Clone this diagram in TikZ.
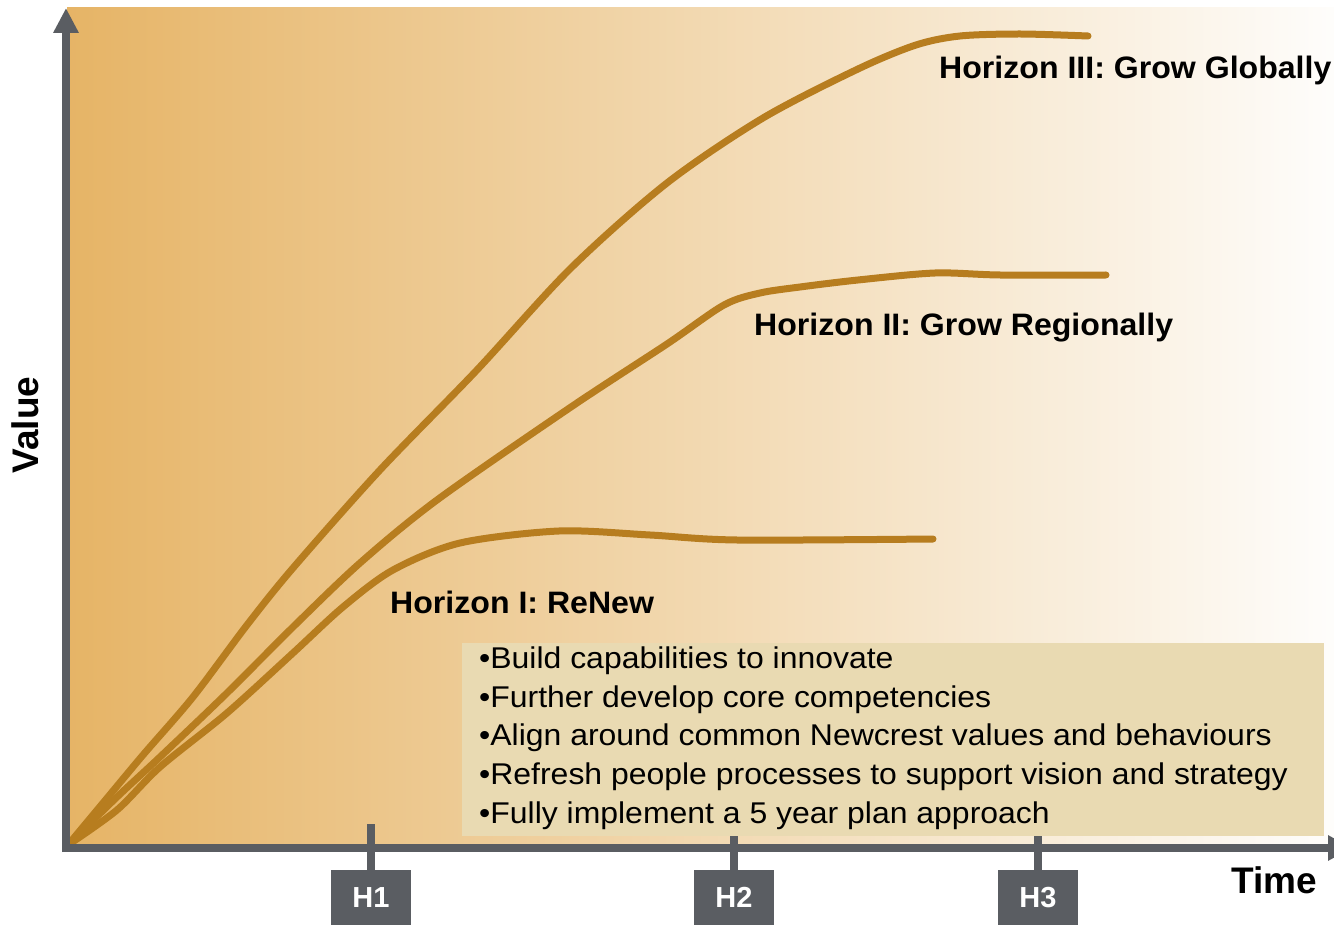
\documentclass[tikz,border=0pt]{standalone}
\usepackage{fontspec}
\setmainfont{Liberation Sans}
\newfontfamily\bulletfont[FakeStretch=1.065]{Liberation Sans}
\newfontfamily\labelfont[FakeStretch=1.035]{Liberation Sans}
\usetikzlibrary{arrows.meta}
\definecolor{axisc}{HTML}{5A5D62}
\definecolor{curvec}{HTML}{B77D1F}
\definecolor{boxc}{HTML}{E9DAB2}
\definecolor{bgleft}{HTML}{E6B466}
\definecolor{bgright}{HTML}{FEFDFB}
\tikzset{
  axisline/.style={draw=axisc, line width=8pt},
  growth/.style={draw=curvec, line width=7pt, line cap=round, line join=round},
  hbox/.style={fill=axisc, text=white, minimum width=80pt, minimum height=55pt, inner sep=0pt, font=\fontsize{29}{31}\selectfont\bfseries},
  horizonlabel/.style={anchor=base west, inner sep=0pt, font=\labelfont\fontsize{31}{34}\selectfont\bfseries},
  bullet/.style={anchor=base west, inner sep=0pt, font=\bulletfont\fontsize{30}{32}\selectfont},
  axislabel/.style={inner sep=0pt, font=\fontsize{37}{40}\selectfont\bfseries}
}
\begin{document}
\begin{tikzpicture}[x=1pt, y=-1pt]
\useasboundingbox (0,0) rectangle (1334,925);
% background gradient
\shade[left color=bgleft, right color=bgright] (67,8) rectangle (1334,848);
% growth curves
\draw[growth] plot[smooth, tension=0.5] coordinates {(68,845) (117,810) (160,767) (227,713) (293,653) (343,607) (393,570) (460,543) (559,531) (650,535) (737,540) (933,539)};
\draw[growth] plot[smooth, tension=0.5] coordinates {(68,845) (117,797) (160,757) (227,693) (293,627) (360,563) (437,500) (571,407) (667,344) (724,305) (760,293) (800,287) (858,280) (935,273) (1000,275) (1106,275)};
\draw[growth] plot[smooth, tension=0.5] coordinates {(68,845) (103,803) (143,755) (193,697) (247,625) (293,568) (380,470) (476,371) (571,268) (667,183) (763,118) (858,69) (916,45) (960,36) (1020,34) (1088,36)};
% text box
\node[fill=boxc, minimum width=862pt, minimum height=193pt, inner sep=0pt, anchor=north west] (box) at (462,643) {};
\node[bullet] (b1) at (479,668) {•Build capabilities to innovate};
\node[bullet] (b2) at (479,707) {•Further develop core competencies};
\node[bullet] (b3) at (479,745) {•Align around common Newcrest values and behaviours};
\node[bullet] (b4) at (479,784) {•Refresh people processes to support vision and strategy};
\node[bullet] (b5) at (479,823) {•Fully implement a 5 year plan approach};
% horizon labels
\node[horizonlabel] (h3lab) at (939,79) {Horizon III: Grow Globally};
\node[horizonlabel] (h2lab) at (754,336) {Horizon II: Grow Regionally};
\node[horizonlabel] (h1lab) at (390,613) {Horizon I: ReNew};
% axes
\draw[axisline, -{Triangle[width=24pt,length=25pt]}] (66,852) -- (66,8);
\draw[axisline, -{Triangle[width=24pt,length=24pt]}] (62,848) -- (1352,848);
% horizon markers
\node[hbox] (H1) at (371,897.5) {H1};
\node[hbox] (H2) at (734,897.5) {H2};
\node[hbox] (H3) at (1038,897.5) {H3};
\coordinate (t1) at (371,824);
\coordinate (t2) at (734,836);
\coordinate (t3) at (1038,836);
\draw[draw=axisc, line width=8pt] (t1) -- (H1.north);
\draw[draw=axisc, line width=8pt] (t2) -- (H2.north);
\draw[draw=axisc, line width=8pt] (t3) -- (H3.north);
% axis labels
\node[axislabel, rotate=90] (value) at (25,425) {Value};
\node[axislabel, anchor=base west] (time) at (1231,893) {Time};
\end{tikzpicture}
\end{document}
